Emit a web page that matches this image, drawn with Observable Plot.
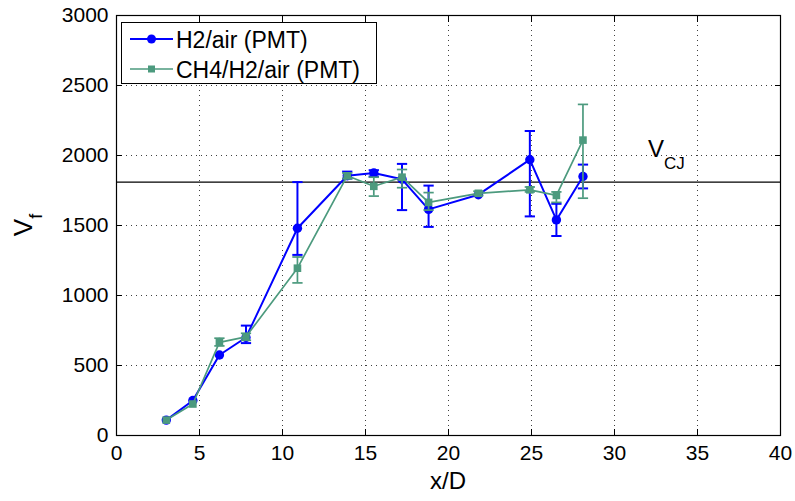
<!DOCTYPE html>
<html><head><meta charset="utf-8">
<script src="https://cdn.jsdelivr.net/npm/d3@7"></script>
<script src="https://cdn.jsdelivr.net/npm/@observablehq/plot@0.6"></script>
<style>
body{margin:0;background:#fff;}
#chart{position:relative;width:795px;height:501px;}
#chart svg{font-family:"Liberation Sans",Arial,sans-serif;}
</style>
</head><body><div id="chart"></div>
<script>
// x/D positions
const xPos = [3.0, 4.6, 6.2, 7.8, 10.9, 13.9, 15.5, 17.2, 18.8, 21.8, 24.9, 26.5, 28.1];
// H2/air (PMT)
const h2Vel = [110, 250, 575, 700, 1480, 1855, 1875, 1830, 1615, 1720, 1970, 1540, 1850];
const h2Lo  = [null, null, null, 660, 1290, 1835, 1850, 1610, 1490, null, 1565, 1425, 1765];
const h2Hi  = [null, null, null, 785, 1810, 1885, 1895, 1940, 1785, null, 2175, 1655, 1935];
// CH4/H2/air (PMT)
const ch4Vel = [110, 225, 665, 705, 1195, 1855, 1780, 1845, 1665, 1730, 1755, 1715, 2110];
const ch4Lo  = [null, null, 640, 680, 1090, 1835, 1710, 1770, 1610, 1715, 1740, 1665, 1695];
const ch4Hi  = [null, null, 695, 730, 1275, 1875, 1845, 1900, 1735, 1745, 1775, 1740, 2365];
// Chapman-Jouguet velocity
const vcj = 1810;
const vcjLabelX = 32.05;
const xTicks = [0, 5, 10, 15, 20, 25, 30, 35, 40];
const yTicks = [0, 500, 1000, 1500, 2000, 2500, 3000];
const seriesNames = ["H2/air (PMT)", "CH4/H2/air (PMT)"];
const blue = "#0000ff", green = "#4c9a7e";

const rows = (vel, lo, hi) => xPos.map((x, i) => ({x, v: vel[i], lo: lo[i], hi: hi[i]}));
const h2 = rows(h2Vel, h2Lo, h2Hi);
const ch4 = rows(ch4Vel, ch4Lo, ch4Hi);

const capSymbol = {draw(ctx, size) { const w = Math.sqrt(size); ctx.moveTo(-w, 0); ctx.lineTo(w, 0); }};

function series(data, color, sw, symbol, r) {
  const e = data.filter(d => d.lo != null);
  return [
    Plot.ruleX(e, {x: "x", y1: "lo", y2: "hi", stroke: color, strokeWidth: sw}),
    Plot.dot(e, {x: "x", y: "lo", symbol: capSymbol, r: 2.9, stroke: color, strokeWidth: sw}),
    Plot.dot(e, {x: "x", y: "hi", symbol: capSymbol, r: 2.9, stroke: color, strokeWidth: sw}),
    Plot.line(data, {x: "x", y: "v", stroke: color, strokeWidth: sw}),
    Plot.dot(data, {x: "x", y: "v", symbol, r, fill: color, stroke: "none"})
  ];
}

const fmt = d3.format("d");
const plot = Plot.plot({
  width: 795, height: 501,
  marginLeft: 116, marginRight: 15, marginTop: 15, marginBottom: 66,
  style: {fontFamily: "'Liberation Sans', Arial, sans-serif", fontSize: "21px", color: "#000", background: "#fff"},
  x: {domain: [0, 40]},
  y: {domain: [0, 3000]},
  marks: [
    Plot.gridX(xTicks.slice(1, -1), {stroke: "#000", strokeOpacity: 0.75, strokeDasharray: "1,4"}),
    Plot.gridY(yTicks.slice(1, -1), {stroke: "#000", strokeOpacity: 0.75, strokeDasharray: "1,4"}),
    Plot.axisX({ticks: xTicks, tickSize: -6, tickPadding: 16, tickFormat: fmt, label: null, fontSize: 21}),
    Plot.axisX({anchor: "top", ticks: xTicks, tickSize: -6, tickFormat: () => "", label: null}),
    Plot.axisY({ticks: yTicks, tickSize: -6, tickPadding: 14, tickFormat: fmt, label: null, fontSize: 21}),
    Plot.axisY({anchor: "right", ticks: yTicks, tickSize: -6, tickFormat: () => "", label: null}),
    Plot.ruleY([vcj], {stroke: "#000", strokeWidth: 1.3}),
    ...series(h2, blue, 2, "circle", 4.7),
    ...series(ch4, green, 1.7, "square", 4.3),
    Plot.frame({stroke: "#000", strokeWidth: 1.2})
  ]
});
document.getElementById("chart").appendChild(plot);

const svg = d3.select(plot);
const sx = plot.scale("x"), sy = plot.scale("y");
const font = "'Liberation Sans', Arial, sans-serif";

// x label
svg.append("text").attr("x", (sx.apply(0) + sx.apply(40)) / 2).attr("y", 489)
  .attr("text-anchor", "middle").attr("font-size", 24).attr("font-family", font).text("x/D");

// y label V_f
const yl = svg.append("text")
  .attr("transform", `translate(32,${(sy.apply(0) + sy.apply(3000)) / 2}) rotate(-90)`)
  .attr("text-anchor", "middle").attr("font-family", font);
yl.append("tspan").attr("font-size", 26).text("V");
yl.append("tspan").attr("font-size", 18).attr("dy", 10).text("f");

// V_CJ label
const vl = svg.append("text").attr("x", sx.apply(vcjLabelX)).attr("y", sy.apply(vcj) - 25)
  .attr("text-anchor", "start").attr("font-family", font);
vl.append("tspan").attr("font-size", 24).text("V");
vl.append("tspan").attr("font-size", 17).attr("dy", 12).text("CJ");

// legend
const lg = svg.append("g");
lg.append("rect").attr("x", 121.5).attr("y", 22.5).attr("width", 255).attr("height", 61)
  .attr("fill", "#fff").attr("stroke", "#000").attr("stroke-width", 1);
[[blue, "circle"], [green, "square"]].forEach(([c, s], i) => {
  const y = 39 + i * 30;
  lg.append("line").attr("x1", 130).attr("x2", 173).attr("y1", y).attr("y2", y).attr("stroke", c).attr("stroke-width", i ? 1.7 : 2);
  if (s === "circle") lg.append("circle").attr("cx", 151.5).attr("cy", y).attr("r", 4.5).attr("fill", c);
  else lg.append("rect").attr("x", 148).attr("y", y - 3.5).attr("width", 7).attr("height", 7).attr("fill", c);
  lg.append("text").attr("x", 176).attr("y", y + 8.5).attr("text-anchor", "start")
    .attr("font-size", 23).attr("font-family", font).text(seriesNames[i]);
});
</script>
</body></html>
